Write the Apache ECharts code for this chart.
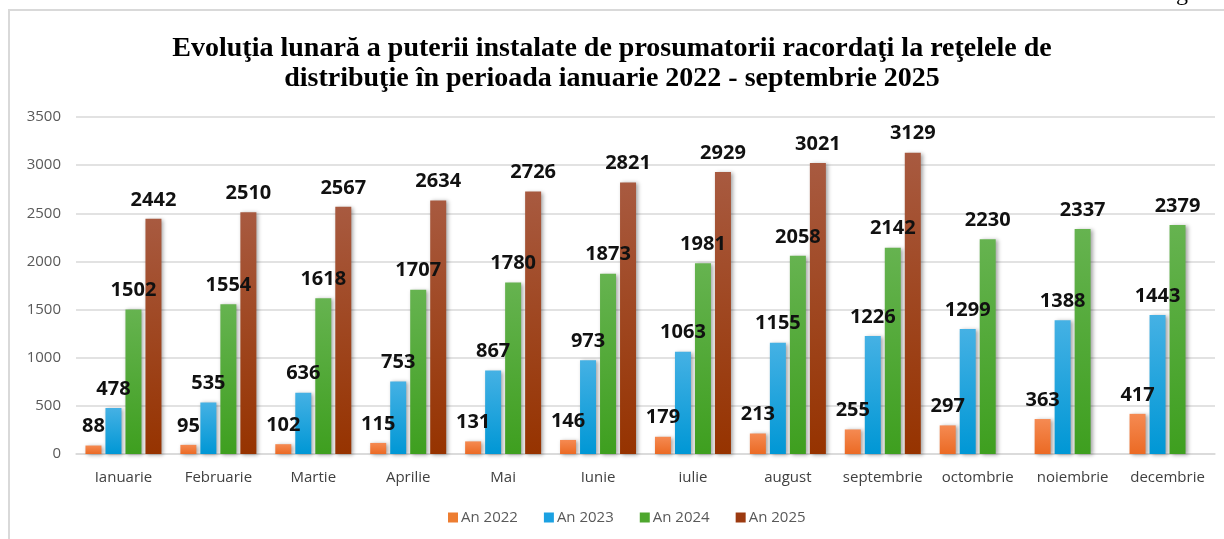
<!DOCTYPE html>
<html>
<head>
<meta charset="utf-8">
<script src="https://cdn.jsdelivr.net/npm/echarts@6/dist/echarts.min.js"></script>
<style>
  html, body { margin: 0; padding: 0; background: #fff; }
  #chart { width: 1224px; height: 539px; }
</style>
</head>
<body>
<div id="chart"></div>
<script>
// date
const months = ['Ianuarie', 'Februarie', 'Martie', 'Aprilie', 'Mai', 'Iunie', 'iulie', 'august', 'septembrie', 'octombrie', 'noiembrie', 'decembrie']
const an2022 = [88, 95, 102, 115, 131, 146, 179, 213, 255, 297, 363, 417]
const an2023 = [478, 535, 636, 753, 867, 973, 1063, 1155, 1226, 1299, 1388, 1443]
const an2024 = [1502, 1554, 1618, 1707, 1780, 1873, 1981, 2058, 2142, 2230, 2337, 2379]
const an2025 = [2442, 2510, 2567, 2634, 2726, 2821, 2929, 3021, 3129, null, null, null]
const yTicks = [0, 500, 1000, 1500, 2000, 2500, 3000, 3500]

const chart = echarts.init(document.getElementById('chart'))

function grad(top, bottom) {
  return {
    type: 'linear', x: 0, y: 0, x2: 0, y2: 1,
    colorStops: [{ offset: 0, color: top }, { offset: 1, color: bottom }]
  }
}

function serie(name, data, top, bottom) {
  return {
    name: name,
    type: 'bar',
    data: data,
    barWidth: 16,
    barGap: '25%',
    itemStyle: {
      color: grad(top, bottom),
      shadowColor: 'rgba(0,0,0,0.35)',
      shadowBlur: 4,
      shadowOffsetX: 2,
      shadowOffsetY: 1
    },
    label: {
      show: true,
      position: 'top',
      distance: 9,
      color: '#111',
      fontFamily: 'Open Sans',
      fontWeight: 'bold',
      fontSize: 20
    },
    animation: false
  }
}

chart.setOption({
  backgroundColor: '#fff',
  title: {
    text: 'Evoluţia lunară a puterii instalate de prosumatorii racordaţi la reţelele de\ndistribuţie în perioada ianuarie 2022 - septembrie 2025',
    left: 'center',
    top: 29,
    textStyle: {
      fontFamily: 'Liberation Serif',
      fontWeight: 'bold',
      fontSize: 28,
      lineHeight: 30,
      color: '#000'
    }
  },
  graphic: [
    { type: 'rect', shape: { x: 9, y: 10, width: 1230, height: 540 }, style: { fill: 'none', stroke: '#d9d9d9', lineWidth: 2 }, z: -1 },
    { type: 'text', left: 1176, top: -18, style: { text: 'g', font: '24px "Liberation Serif"', fill: '#000' } }
  ],
  legend: {
    bottom: 9,
    left: 443,
    itemWidth: 10,
    itemHeight: 10,
    itemGap: 26,
    icon: 'rect',
    textStyle: { fontFamily: 'Open Sans', fontSize: 15, color: '#595959', padding: [0, 0, 0, -2] },
    data: [
      { name: 'An 2022', itemStyle: { color: '#ED7D31' } },
      { name: 'An 2023', itemStyle: { color: '#1BA1E2' } },
      { name: 'An 2024', itemStyle: { color: '#4EA72E' } },
      { name: 'An 2025', itemStyle: { color: '#9C3A10' } }
    ]
  },
  grid: { left: 76, right: 9, top: 117, bottom: 85 },
  xAxis: {
    type: 'category',
    data: months,
    axisLine: { lineStyle: { color: '#d9d9d9', width: 1.5 } },
    axisTick: { show: false },
    axisLabel: { fontFamily: 'Open Sans', fontSize: 15, color: '#404040', margin: 16, interval: 0 }
  },
  yAxis: {
    type: 'value',
    min: yTicks[0],
    max: yTicks[yTicks.length - 1],
    interval: 500,
    axisLine: { show: false },
    axisTick: { show: false },
    splitLine: { lineStyle: { color: '#d9d9d9', width: 1.5 } },
    axisLabel: {
      fontFamily: 'Open Sans', fontSize: 15, color: '#595959', margin: 15,
      formatter: function (v) { return String(v) }
    }
  },
  series: [
    serie('An 2022', an2022, '#F58A52', '#EB6A24'),
    serie('An 2023', an2023, '#45B1E4', '#0097D5'),
    serie('An 2024', an2024, '#66B350', '#3E9F1F'),
    serie('An 2025', an2025, '#A85A40', '#963300')
  ]
})

window.onresize = function () {
  chart.resize()
}
</script>
</body>
</html>
